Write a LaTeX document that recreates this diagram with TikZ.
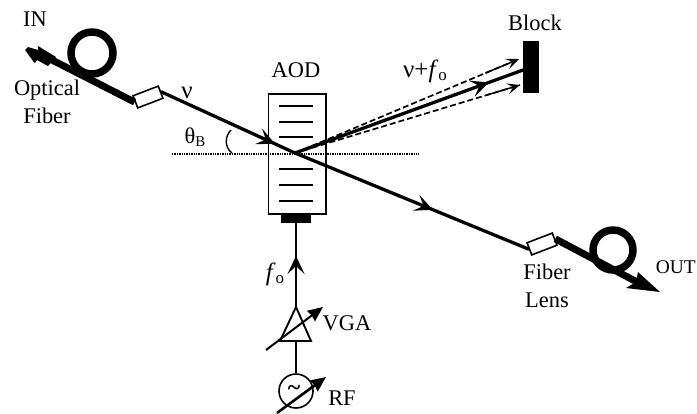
\documentclass[tikz,border=0pt]{standalone}
\usepackage{fontspec}
\setmainfont{Liberation Serif}
\usetikzlibrary{arrows.meta,calc}
\tikzset{
  lbl/.style={inner sep=0pt,font=\fontsize{22.5}{25}\selectfont},
  beam/.style={line width=3.3pt,line cap=round},
  fiber/.style={line width=7pt},
  loopc/.style={circle,draw,line width=7.5pt,inner sep=0pt},
  lens/.style={draw,line width=1.6pt,fill=white,minimum width=27bp,minimum height=13bp,inner sep=0pt},
  thin/.style={line width=1.5pt},
  wire/.style={line width=1.9pt},
  midtip/.style={-{Stealth[length=18bp,width=17bp,inset=8bp]}},
  dashbeam/.style={line width=1.7pt,dash pattern=on 6bp off 3bp},
  bigtip/.style={-{Stealth[length=15bp,width=13bp,inset=1bp]}},
}
\begin{document}
\begin{tikzpicture}[x=1bp,y=-1bp]
\useasboundingbox[clip] (0,0) rectangle (697,413);
% named points
\coordinate (cross) at (295,153);
\coordinate (inM) at (52,60);
\coordinate (outTip) at (660,292);
\coordinate (hL) at (172,154);
\coordinate (hR) at (419,154);
\coordinate (upTip) at (519,59);
\coordinate (lowTip) at (520,85);
\coordinate (midEnd) at (523,70);
\coordinate (fTip) at (296,256);
% AOD
\node[draw,thin,minimum width=57bp,minimum height=120bp,inner sep=0pt,anchor=north west] (aod) at (268,93) {};
\node[fill=black,minimum width=30bp,minimum height=10bp,inner sep=0pt,anchor=north] (trans) at (296,213) {};
\foreach \yy in {106,122,137,169,185,201}
  \draw[line width=1.5pt] (279,\yy) -- (313,\yy);
\draw[line width=1.4pt,densely dotted] (hL) -- (hR);
% block
\node[fill=black,minimum width=16bp,minimum height=52bp,inner sep=0pt,anchor=north west] (block) at (523,41) {};
% fibres
\node[loopc,minimum size=42bp] (loopA) at (92,53) {};
\node[lens,rotate=21] (lensA) at (148,97) {};
\node[loopc,minimum size=40bp] (loopB) at (613,250) {};
\node[lens,rotate=21] (lensB) at (542,244) {};
\coordinate (outM) at (637,282);
\draw[fiber] (inM) -- (lensA.west);
\draw[fiber] (lensB.east) -- (outM);
\fill[black] (outTip) -- (638,272) -- (636,282) -- (626,288) -- cycle;
\fill[black] (25,50) -- (28,47) -- (38,50) -- (38,46) -- (56,57) -- (48,66) -- (37,60) -- (35,63) -- (33,61) -- cycle;
% beams
\draw[beam] (lensA.east) -- (cross) -- (lensB.west);
\coordinate (inArrow) at ($(lensA.east)!0.85!(cross)$);
\coordinate (outArrow) at ($(cross)!0.59!(lensB.west)$);
\draw[wire,midtip] ($(cross)!0.5!(outArrow)$) -- (outArrow);
\draw[wire,midtip] ($(lensA.east)!0.5!(inArrow)$) -- (inArrow);
\draw[beam] (cross) -- (midEnd);
\coordinate (midArrow) at ($(cross)!0.85!(midEnd)$);
\draw[wire,midtip] ($(cross)!0.5!(midArrow)$) -- (midArrow);
\draw[dashbeam] (cross) -- (upTip);
\draw[dashbeam] (cross) -- (lowTip);
\draw[line width=1.5pt,-{Stealth[length=13bp,width=11bp,inset=6bp]}] ($(cross)!0.85!(upTip)$) -- (upTip);
\draw[line width=1.5pt,-{Stealth[length=13bp,width=11bp,inset=6bp]}] ($(cross)!0.85!(lowTip)$) -- (lowTip);
% angle arc
\coordinate (arcA) at (231,130);
\coordinate (arcB) at (232,153);
\draw[line width=1.4pt] (arcA) .. controls (225,136) and (224,147) .. (arcB);
% RF chain
\node[circle,draw,line width=1.6pt,minimum size=34bp,inner sep=0pt] (rf) at (296,391) {};
\node[inner sep=0pt,font=\bfseries\fontsize{24}{24}\selectfont] (tilde) at (294,390) {\textasciitilde};
\coordinate (triA) at (296,307);
\coordinate (triB) at (280,341);
\coordinate (triC) at (311,341);
\coordinate (triM) at (296,341);
\draw[line width=1.9pt,line join=miter] (triA) -- (triB) -- (triC) -- cycle;
\draw[wire] (rf.north) -- (triM);
\draw[wire] (trans.south) -- (triA);
\draw[wire,midtip] (296,272) -- (fTip);
\coordinate (vgaS) at (266,350);
\coordinate (vgaE) at (323,307);
\coordinate (rfS) at (277,413);
\coordinate (rfE) at (326,377);
\draw[line width=2pt,bigtip] (vgaS) -- (vgaE);
\draw[line width=2.6pt,bigtip] (rfS) -- (rfE);
% labels
\node[lbl] (tIN) at (35,19) {IN};
\node[lbl,align=center] (tOF) at (47,102) {Optical\\[3bp]Fiber};
\node[lbl,font=\fontsize{25}{27}\selectfont] (tnu) at (187,93) {ν};
\node[lbl] (tth) at (195,137) {θ\raisebox{-3bp}{\fontsize{15}{15}\selectfont B}};
\node[lbl] (tAOD) at (296,70) {AOD};
\node[lbl] (tnuf) at (425,71) {\fontsize{25}{27}\selectfont ν+\textit{f}\raisebox{-3bp}{\fontsize{17}{17}\selectfont o}};
\node[lbl] (tBlock) at (535,23) {Block};
\node[lbl] (tf) at (275,274) {\fontsize{25}{27}\selectfont\textit{f}\raisebox{-3bp}{\fontsize{17}{17}\selectfont o}};
\node[lbl] (tVGA) at (347,323) {VGA};
\node[lbl] (tRF) at (342,398) {RF};
\node[lbl,align=center] (tFL) at (547,286) {Fiber\\[3bp]Lens};
\node[lbl,anchor=east,font=\fontsize{19.5}{22}\selectfont] (tOUT) at (696,267) {OUT};
\end{tikzpicture}
\end{document}
